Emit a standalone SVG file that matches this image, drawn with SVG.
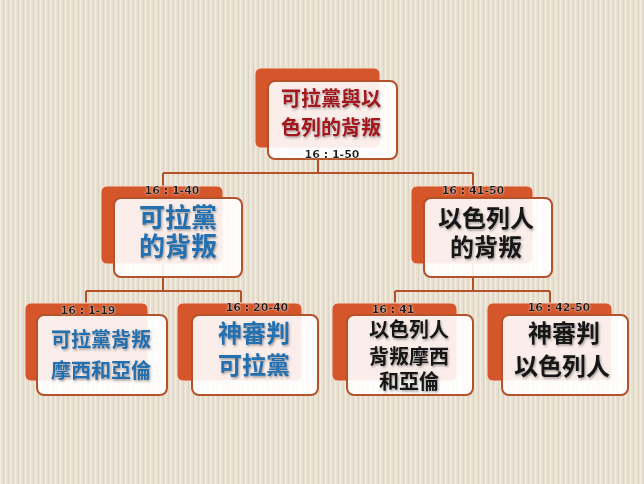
<svg xmlns="http://www.w3.org/2000/svg" width="644" height="484" viewBox="0 0 644 484">
<defs>
<pattern id="stripes" x="0" y="0" width="5" height="10" patternUnits="userSpaceOnUse">
<rect width="5" height="10" fill="#e8e0d0"/>
<rect x="0" width="1" height="10" fill="#f2ede2"/>
<rect x="3" width="1" height="10" fill="#ddd4c2"/>
</pattern>
<filter id="ts" x="-10%" y="-20%" width="130%" height="150%">
<feDropShadow dx="1" dy="1.5" stdDeviation="0.8" flood-color="#404040" flood-opacity="0.5"/>
</filter>
<filter id="ls" x="-10%" y="-30%" width="130%" height="170%">
<feDropShadow dx="0" dy="0" stdDeviation="0.8" flood-color="#ffffff" flood-opacity="0.8"/>
</filter>
</defs>
<style>
.back{fill:#d4562a;stroke:#f3d9cc;stroke-width:1;}
.front{fill:#ffffff;fill-opacity:0.9;stroke:#b4532b;stroke-width:2;}
.conn{fill:none;stroke:#b4532b;stroke-width:2;}
.lbl{font-family:"DejaVu Sans",sans-serif;font-weight:bold;font-size:11px;fill:#1a1a1a;text-anchor:middle;}
.t{font-family:"Noto Sans CJK TC","Noto Sans CJK SC",sans-serif;font-weight:bold;text-anchor:middle;filter:url(#ts);}
.red{fill:#a3161e;}
.blue{fill:#2270b0;}
.blk{fill:#141414;}
</style>
<rect width="644" height="484" fill="url(#stripes)"/>
<g id="connectors">
<path class="conn" d="M318 150 V173 M163 173 H473 M163 173 V291 M473 173 V291 M86 291 H241 M86 291 V303 M241 291 V303 M395 291 H550 M395 291 V303 M550 291 V303"/>
</g>
<g id="n1">
<rect class="back" x="255" y="68" width="125" height="80" rx="6"/>
<rect class="front" x="268" y="81" width="129" height="78" rx="7"/>
<text class="t red" x="331" y="106" font-size="20">可拉黨與以</text>
<text class="t red" x="331" y="135" font-size="20">色列的背叛</text>
<text class="lbl" x="332" y="158" filter="url(#ls)">16 : 1-50</text>
</g>
<g id="n2">
<rect class="back" x="101" y="186" width="122" height="78" rx="6"/>
<rect class="front" x="114" y="198" width="128" height="79" rx="7"/>
<text class="lbl" x="172" y="194" filter="url(#ls)">16 : 1-40</text>
<text class="t blue" x="178" y="227" font-size="26">可拉黨</text>
<text class="t blue" x="178" y="256" font-size="26">的背叛</text>
</g>
<g id="n3">
<rect class="back" x="411" y="186" width="122" height="78" rx="6"/>
<rect class="front" x="424" y="198" width="128" height="79" rx="7"/>
<text class="lbl" x="473" y="194" filter="url(#ls)">16 : 41-50</text>
<text class="t blk" x="486" y="227" font-size="24">以色列人</text>
<text class="t blk" x="486" y="256" font-size="24">的背叛</text>
</g>
<g id="n4">
<rect class="back" x="25" y="303" width="123" height="78" rx="6"/>
<rect class="front" x="37" y="315" width="130" height="80" rx="7"/>
<text class="lbl" x="88" y="314" filter="url(#ls)">16 : 1-19</text>
<text class="t blue" x="101" y="347" font-size="20">可拉黨背叛</text>
<text class="t blue" x="101" y="378" font-size="20">摩西和亞倫</text>
</g>
<g id="n5">
<rect class="back" x="177" y="303" width="125" height="78" rx="6"/>
<rect class="front" x="192" y="315" width="126" height="80" rx="7"/>
<text class="lbl" x="257" y="311" filter="url(#ls)">16 : 20-40</text>
<text class="t blue" x="254" y="342" font-size="24">神審判</text>
<text class="t blue" x="254" y="374" font-size="24">可拉黨</text>
</g>
<g id="n6">
<rect class="back" x="332" y="303" width="125" height="78" rx="6"/>
<rect class="front" x="347" y="315" width="126" height="80" rx="7"/>
<text class="lbl" x="393" y="313" filter="url(#ls)">16 : 41</text>
<text class="t blk" x="409" y="337" font-size="20">以色列人</text>
<text class="t blk" x="409" y="364" font-size="20">背叛摩西</text>
<text class="t blk" x="409" y="389" font-size="20">和亞倫</text>
</g>
<g id="n7">
<rect class="back" x="487" y="303" width="125" height="78" rx="6"/>
<rect class="front" x="502" y="315" width="126" height="80" rx="7"/>
<text class="lbl" x="559" y="311" filter="url(#ls)">16 : 42-50</text>
<text class="t blk" x="564" y="342" font-size="24">神審判</text>
<text class="t blk" x="562" y="375" font-size="24">以色列人</text>
</g>
</svg>
